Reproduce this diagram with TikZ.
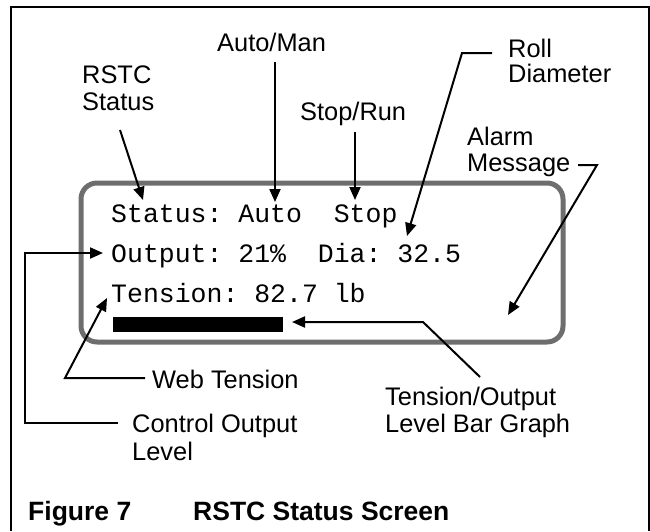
\documentclass[tikz,border=0pt]{standalone}
\usepackage{fontspec}
\newfontfamily\labfont{Liberation Sans}
\newfontfamily\monofont{Liberation Mono}
\usetikzlibrary{arrows.meta}
\definecolor{boxgray}{RGB}{110,110,110}
\begin{document}
\begin{tikzpicture}[x=1pt,y=-1pt,
  lab/.style={anchor=base west,inner sep=0pt,font=\labfont\fontsize{25.4}{27}\selectfont},
  figcap/.style={anchor=base west,inner sep=0pt,font=\labfont\bfseries\fontsize{26.5}{28}\selectfont},
  lcd/.style={anchor=base west,inner sep=0pt,font=\monofont\fontsize{26.5}{30}\selectfont},
  conn/.style={line width=2pt},
  arr/.style={conn,-{Triangle[length=13pt,width=11pt]}},
  outerframe/.style={line width=2pt},
  screen/.style={draw=boxgray,line width=5pt,rounded corners=16pt}]
\useasboundingbox (0,0) rectangle (650,531);
% outer frame
\draw[outerframe] (11,531) -- (11,7) -- (648.5,7) -- (648.5,531);
% screen
\draw[screen] (81,183) rectangle (563,342);
\node[lcd] (l1) at (111,222) {Status:~Auto~~Stop};
\node[lcd] (l2) at (111,262) {Output:~21\%~~Dia:~32.5};
\node[lcd] (l3) at (111,302) {Tension:~82.7~lb};
\fill (113,317) rectangle (283,332);
\coordinate (bar) at (283,324.5);
% labels
\node[lab] (rstc1) at (82,83) {RSTC};
\node[lab] (rstc2) at (82,110) {Status};
\node[lab] (auto) at (217,51) {Auto/Man};
\node[lab] (stop) at (300,120) {Stop/Run};
\node[lab] (roll1) at (508,57) {Roll};
\node[lab] (roll2) at (508,82) {Diameter};
\node[lab] (alarm1) at (467,145) {Alarm};
\node[lab] (alarm2) at (467,171) {Message};
\node[lab] (web) at (152,388) {Web Tension};
\node[lab] (ctl1) at (132,432) {Control Output};
\node[lab] (ctl2) at (132,460) {Level};
\node[lab] (bg1) at (385,405) {Tension/Output};
\node[lab] (bg2) at (385,432) {Level Bar Graph};
\node[figcap] (fig) at (28,520) {Figure 7};
\node[figcap] (title) at (193,520) {RSTC Status Screen};
% connector points
\coordinate (a1s) at (120,130); \coordinate (a1t) at (143,200);
\coordinate (a2s) at (275,62);  \coordinate (a2t) at (275,202);
\coordinate (a3s) at (355,132); \coordinate (a3t) at (355,200);
\coordinate (a4s) at (492,53);  \coordinate (a4b) at (462,53);  \coordinate (a4t) at (407,236);
\coordinate (a5s) at (578,165); \coordinate (a5b) at (597,165); \coordinate (a5t) at (508,315);
\coordinate (a6s) at (118,423); \coordinate (a6b) at (25,423);  \coordinate (a6c) at (25,253); \coordinate (a6t) at (103,253);
\coordinate (a7s) at (145,378); \coordinate (a7b) at (65,378);  \coordinate (a7t) at (107,298);
\coordinate (a8s) at (480,377); \coordinate (a8b) at (423,322); \coordinate (a8t) at (292,322);
% connectors
\draw[arr] (a1s) -- (a1t);
\draw[arr] (a2s) -- (a2t);
\draw[arr] (a3s) -- (a3t);
\draw[arr] (a4s) -- (a4b) -- (a4t);
\draw[arr] (a5s) -- (a5b) -- (a5t);
\draw[arr] (a6s) -- (a6b) -- (a6c) -- (a6t);
\draw[arr] (a7s) -- (a7b) -- (a7t);
\draw[arr] (a8s) -- (a8b) -- (a8t);
\end{tikzpicture}
\end{document}
